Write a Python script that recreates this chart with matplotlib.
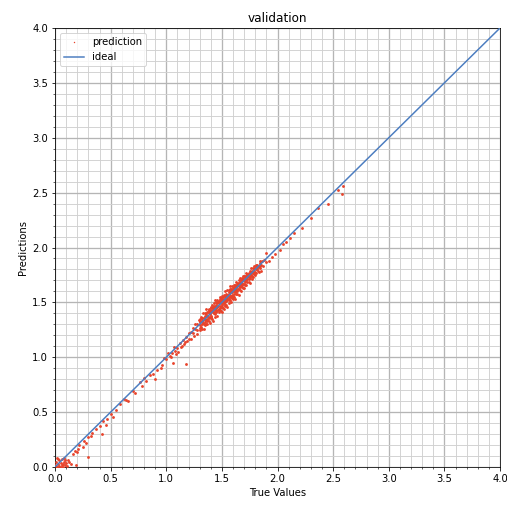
"""validation scatter: true values vs predictions with ideal line."""
import numpy as np
import matplotlib
matplotlib.use("Agg")
import matplotlib.pyplot as plt
from matplotlib.ticker import MultipleLocator

# (true, predicted) pairs, grouped by region
origin_pts = [
    (0.00, 0.02), (0.01, 0.05), (0.02, 0.00), (0.03, 0.03), (0.03, 0.07),
    (0.04, 0.01), (0.05, 0.04), (0.06, 0.02), (0.06, 0.07), (0.07, 0.00),
    (0.08, 0.05), (0.09, 0.02), (0.10, 0.04), (0.11, 0.01), (0.12, 0.06),
    (0.02, 0.08), (0.04, 0.06), (0.07, 0.03), (0.09, 0.06), (0.01, 0.01),
    (0.05, 0.00), (0.14, 0.03), (0.08, 0.08),
]
low_pts = [
    (0.92, 0.88), (0.95, 0.90), (0.90, 0.80), (0.88, 0.85), (0.85, 0.84),
    (0.82, 0.78), (0.80, 0.81), (0.78, 0.74), (0.76, 0.77), (0.72, 0.67),
    (0.70, 0.69), (0.66, 0.60), (0.64, 0.61), (0.62, 0.62), (0.58, 0.57),
    (0.55, 0.52), (0.52, 0.46), (0.50, 0.48), (0.47, 0.44), (0.46, 0.38),
    (0.43, 0.42), (0.42, 0.30), (0.40, 0.37), (0.37, 0.35), (0.33, 0.31),
    (0.32, 0.28), (0.30, 0.27), (0.28, 0.22), (0.26, 0.24), (0.25, 0.18),
    (0.22, 0.20), (0.21, 0.16), (0.20, 0.14), (0.18, 0.15), (0.16, 0.12),
    (0.30, 0.09), (0.19, 0.02), (0.13, 0.05),
]
mid_pts = [
    (1.00, 0.98), (1.02, 1.04), (1.04, 1.00), (1.05, 1.04), (1.06, 0.95),
    (1.08, 1.06), (1.09, 1.03), (1.10, 1.08), (1.11, 1.05), (1.12, 1.13),
    (1.13, 1.09), (1.14, 1.10), (1.15, 1.16), (1.16, 1.12), (1.17, 1.14),
    (1.18, 1.18), (1.18, 0.94), (1.19, 1.15), (0.96, 0.93), (0.98, 0.99),
    (1.03, 1.01), (1.07, 1.09),
]
cluster_pts = [
    (1.20, 1.17), (1.20, 1.22), (1.22, 1.17), (1.22, 1.23), (1.24, 1.27),
    (1.24, 1.22), (1.25, 1.19), (1.26, 1.26), (1.26, 1.30), (1.28, 1.25),
    (1.28, 1.30), (1.28, 1.21), (1.29, 1.34), (1.30, 1.29), (1.30, 1.33),
    (1.30, 1.25), (1.31, 1.37), (1.31, 1.28), (1.32, 1.33), (1.32, 1.26),
    (1.32, 1.36), (1.33, 1.31), (1.33, 1.40), (1.34, 1.36), (1.34, 1.30),
    (1.34, 1.26), (1.35, 1.40), (1.35, 1.34), (1.35, 1.35), (1.36, 1.30),
    (1.36, 1.39), (1.36, 1.44), (1.37, 1.38), (1.37, 1.34), (1.37, 1.30),
    (1.38, 1.42), (1.38, 1.36), (1.38, 1.44), (1.38, 1.33), (1.39, 1.39),
    (1.39, 1.31), (1.39, 1.42), (1.40, 1.45), (1.40, 1.36), (1.40, 1.41),
    (1.40, 1.38), (1.41, 1.48), (1.41, 1.35), (1.41, 1.43), (1.42, 1.41),
    (1.42, 1.46), (1.42, 1.33), (1.42, 1.45), (1.43, 1.49), (1.43, 1.40),
    (1.43, 1.43), (1.44, 1.39), (1.44, 1.46), (1.44, 1.52), (1.44, 1.37),
    (1.45, 1.46), (1.45, 1.43), (1.45, 1.50), (1.45, 1.41), (1.46, 1.49),
    (1.46, 1.38), (1.46, 1.52), (1.46, 1.46), (1.47, 1.44), (1.47, 1.51),
    (1.47, 1.41), (1.47, 1.49), (1.48, 1.55), (1.48, 1.47), (1.48, 1.43),
    (1.48, 1.51), (1.49, 1.49), (1.49, 1.42), (1.49, 1.54), (1.49, 1.46),
    (1.50, 1.52), (1.50, 1.46), (1.50, 1.56), (1.50, 1.41), (1.51, 1.49),
    (1.51, 1.55), (1.51, 1.45), (1.51, 1.52), (1.52, 1.57), (1.52, 1.49),
    (1.52, 1.52), (1.52, 1.44), (1.53, 1.48), (1.53, 1.56), (1.53, 1.60),
    (1.53, 1.52), (1.54, 1.55), (1.54, 1.48), (1.54, 1.58), (1.54, 1.51),
    (1.55, 1.61), (1.55, 1.53), (1.55, 1.46), (1.55, 1.57), (1.56, 1.52),
    (1.56, 1.59), (1.56, 1.56), (1.56, 1.49), (1.57, 1.62), (1.57, 1.56),
    (1.57, 1.52), (1.57, 1.65), (1.58, 1.55), (1.58, 1.60), (1.58, 1.50),
    (1.58, 1.62), (1.59, 1.59), (1.59, 1.54), (1.59, 1.65), (1.59, 1.57),
    (1.60, 1.63), (1.60, 1.53), (1.60, 1.61), (1.60, 1.56), (1.61, 1.60),
    (1.61, 1.66), (1.61, 1.55), (1.61, 1.63), (1.62, 1.66), (1.62, 1.59),
    (1.62, 1.53), (1.62, 1.62), (1.63, 1.58), (1.63, 1.65), (1.63, 1.69),
    (1.63, 1.61), (1.64, 1.65), (1.64, 1.58), (1.64, 1.67), (1.64, 1.60),
    (1.65, 1.62), (1.65, 1.70), (1.65, 1.57), (1.65, 1.65), (1.66, 1.68),
    (1.66, 1.61), (1.66, 1.72), (1.67, 1.65), (1.67, 1.70), (1.67, 1.60),
    (1.67, 1.68), (1.68, 1.72), (1.68, 1.64), (1.68, 1.67), (1.69, 1.63),
    (1.69, 1.71), (1.69, 1.74), (1.70, 1.70), (1.70, 1.67), (1.70, 1.74),
    (1.70, 1.63), (1.71, 1.74), (1.71, 1.66), (1.71, 1.70), (1.72, 1.70),
    (1.72, 1.77), (1.72, 1.66), (1.73, 1.74), (1.73, 1.69), (1.73, 1.76),
    (1.74, 1.69), (1.74, 1.76), (1.74, 1.73), (1.75, 1.79), (1.75, 1.72),
    (1.75, 1.68), (1.76, 1.74), (1.76, 1.77), (1.76, 1.81), (1.77, 1.71),
    (1.77, 1.79), (1.77, 1.74), (1.78, 1.81), (1.78, 1.77), (1.78, 1.73),
    (1.79, 1.76), (1.79, 1.83), (1.80, 1.81), (1.80, 1.75), (1.80, 1.78),
    (1.81, 1.84), (1.81, 1.77), (1.82, 1.80), (1.82, 1.84), (1.83, 1.83),
    (1.83, 1.78), (1.84, 1.88), (1.84, 1.81), (1.85, 1.84), (1.85, 1.79),
    (1.86, 1.88), (1.87, 1.83), (1.88, 1.89), (1.90, 1.87),
]
cluster_fill_pts = [
    (1.305, 1.32), (1.305, 1.27), (1.305, 1.35), (1.325, 1.30), (1.325, 1.36),
    (1.325, 1.33), (1.345, 1.38), (1.345, 1.32), (1.345, 1.29), (1.365, 1.35),
    (1.365, 1.41), (1.365, 1.33), (1.385, 1.37), (1.385, 1.43), (1.385, 1.40),
    (1.405, 1.42), (1.405, 1.37), (1.405, 1.46), (1.425, 1.44), (1.425, 1.40),
    (1.425, 1.47), (1.445, 1.42), (1.445, 1.48), (1.445, 1.45), (1.465, 1.47),
    (1.465, 1.43), (1.465, 1.50), (1.485, 1.50), (1.485, 1.45), (1.485, 1.53),
    (1.505, 1.48), (1.505, 1.53), (1.505, 1.51), (1.525, 1.54), (1.525, 1.50),
    (1.525, 1.47), (1.545, 1.52), (1.545, 1.57), (1.545, 1.55), (1.565, 1.58),
    (1.565, 1.54), (1.565, 1.61), (1.585, 1.56), (1.585, 1.61), (1.585, 1.59),
    (1.605, 1.62), (1.605, 1.58), (1.605, 1.64), (1.625, 1.60), (1.625, 1.65),
    (1.625, 1.63), (1.645, 1.66), (1.645, 1.62), (1.645, 1.68), (1.665, 1.64),
    (1.665, 1.69), (1.665, 1.66), (1.685, 1.70), (1.685, 1.66), (1.685, 1.68),
    (1.705, 1.69), (1.705, 1.72), (1.705, 1.73), (1.725, 1.73), (1.725, 1.71),
    (1.725, 1.75), (1.745, 1.74), (1.745, 1.77), (1.745, 1.71), (1.765, 1.77),
    (1.765, 1.75), (1.785, 1.78), (1.785, 1.80), (1.805, 1.80), (1.805, 1.83),
    (1.825, 1.82), (1.825, 1.79), (1.845, 1.86), (1.845, 1.83),
]
high_pts = [
    (1.90, 1.95), (1.92, 1.88), (1.95, 1.91), (1.98, 1.94), (2.02, 1.98),
    (2.05, 2.03), (2.08, 2.05), (2.11, 2.09), (2.15, 2.13), (2.22, 2.18),
    (2.30, 2.27), (2.36, 2.36), (2.45, 2.40), (2.54, 2.52), (2.58, 2.49),
    (2.59, 2.56),
]
ideal_x = [0.0, 4.0]
ideal_y = [0.0, 4.0]

pts = np.array(origin_pts + low_pts + mid_pts + cluster_pts
               + cluster_fill_pts + high_pts)
true_vals, pred_vals = pts[:, 0], pts[:, 1]

fig = plt.figure(figsize=(507 / 72, 505 / 72), dpi=72)
ax = fig.add_axes([55 / 507, 1 - 467 / 505, 445 / 507, 439 / 505])

ax.scatter(true_vals, pred_vals, s=8, color="#e8432b",
           linewidths=0, label="prediction", zorder=3)
ax.plot(ideal_x, ideal_y, color="#4c7dc0", lw=1.5, label="ideal", zorder=4)

ax.set_xlim(0, 4)
ax.set_ylim(0, 4)
ax.xaxis.set_major_locator(MultipleLocator(0.5))
ax.yaxis.set_major_locator(MultipleLocator(0.5))
ax.xaxis.set_minor_locator(MultipleLocator(0.1))
ax.yaxis.set_minor_locator(MultipleLocator(0.1))
ax.grid(which="major", color="#b5b5b5", lw=1.3)
ax.grid(which="minor", color="#d0d0d0", lw=0.9)
ax.set_axisbelow(True)

ax.set_title("validation")
ax.set_xlabel("True Values")
ax.set_ylabel("Predictions")
ax.legend(loc="upper left", markerscale=0.5)

fig.savefig("out.png", dpi=72)
